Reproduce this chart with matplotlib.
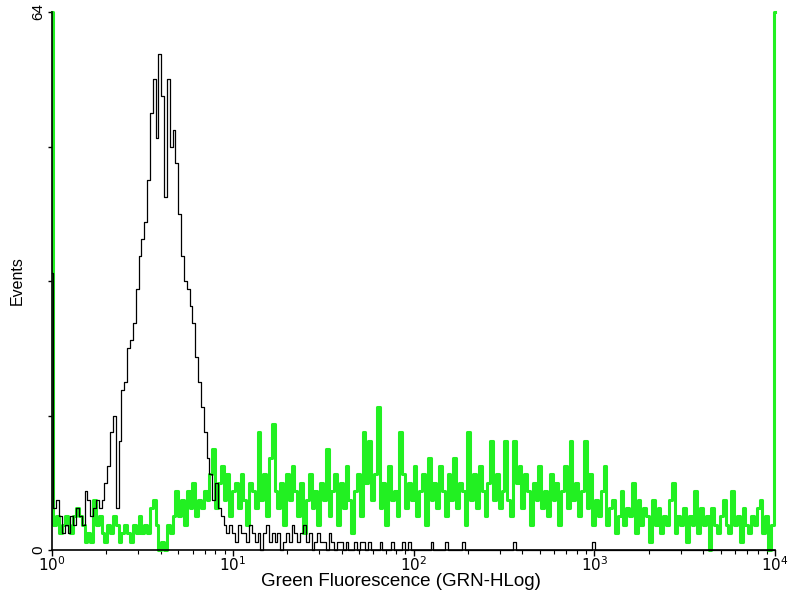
import matplotlib.pyplot as plt
import numpy as np
from matplotlib.ticker import FixedLocator, LogLocator, NullFormatter

plt.rcParams['font.family'] = ['Liberation Sans', 'DejaVu Sans']

# 256 log channels spanning 10^0 .. 10^4
n_channels = 256
decades = 4

# events per channel, sample (green)
green_counts = [
    64, 3, 4, 2, 3, 4, 3, 2, 4, 5, 4, 3, 1, 2, 1, 6,
    3, 4, 2, 1, 3, 2, 4, 3, 1, 2, 3, 2, 1, 3, 2, 4,
    2, 3, 2, 5, 6, 3, 0, 1, 0, 3, 2, 4, 7, 4, 6, 3,
    7, 5, 8, 4, 6, 5, 7, 6, 9, 12, 5, 8, 10, 6, 9, 4,
    7, 8, 5, 9, 6, 3, 8, 7, 5, 14, 6, 9, 4, 11, 15, 7,
    5, 8, 3, 9, 6, 10, 7, 4, 8, 2, 6, 9, 5, 7, 3, 8,
    6, 12, 4, 7, 9, 3, 8, 5, 10, 6, 2, 7, 9, 4, 14, 8,
    13, 6, 9, 17, 5, 8, 3, 10, 6, 7, 4, 14, 9, 5, 8, 6,
    10, 4, 7, 9, 3, 11, 6, 8, 5, 10, 7, 4, 9, 6, 11, 5,
    8, 7, 3, 14, 6, 9, 5, 10, 7, 4, 8, 13, 6, 9, 5, 7,
    13, 6, 4, 13, 8, 10, 5, 9, 7, 3, 8, 6, 10, 5, 7, 4,
    9, 6, 8, 3, 7, 10, 5, 13, 6, 8, 4, 7, 13, 5, 9, 3,
    6, 4, 7, 10, 3, 5, 6, 2, 4, 7, 3, 5, 4, 8, 2, 6,
    3, 5, 4, 1, 6, 3, 5, 2, 4, 3, 6, 8, 2, 4, 3, 5,
    1, 4, 3, 7, 2, 5, 3, 4, 0, 5, 3, 2, 4, 6, 3, 2,
    7, 3, 4, 1, 5, 3, 2, 4, 3, 5, 6, 2, 4, 0, 3, 64,
]

# events per channel, control (black)
black_counts = [
    33, 5, 6, 4, 2, 3, 2, 4, 3, 5, 4, 3, 7, 6, 4, 5,
    6, 5, 6, 8, 10, 14, 16, 5, 13, 19, 20, 24, 25, 27, 31, 35,
    37, 39, 44, 52, 56, 49, 59, 54, 42, 56, 48, 50, 46, 40, 35, 32,
    31, 29, 27, 23, 20, 17, 14, 11, 9, 6, 8, 5, 4, 3, 2, 3,
    2, 1, 3, 2, 2, 1, 3, 2, 1, 2, 0, 2, 3, 1, 2, 1,
    2, 0, 1, 2, 1, 3, 2, 1, 2, 3, 1, 2, 0, 1, 2, 1,
    1, 0, 2, 1, 0, 1, 1, 0, 1, 0, 0, 1, 0, 1, 1, 0,
    1, 0, 0, 0, 1, 0, 0, 0, 1, 0, 0, 0, 1, 0, 1, 0,
    0, 0, 0, 0, 0, 0, 1, 0, 0, 0, 0, 1, 0, 0, 0, 0,
    0, 1, 0, 0, 0, 0, 0, 0, 0, 0, 0, 0, 0, 0, 0, 0,
    0, 0, 0, 1, 0, 0, 0, 0, 0, 0, 0, 0, 0, 0, 0, 0,
    0, 0, 0, 0, 0, 0, 0, 0, 0, 0, 0, 0, 0, 0, 0, 1,
] + [0] * 64

x_ticks = [1, 10, 100, 1000, 10000]
x_tick_labels = ['$10^{0}$', '$10^{1}$', '$10^{2}$', '$10^{3}$', '$10^{4}$']
y_max = 64

channel = np.arange(n_channels)
fluor = 10 ** (decades * channel / (n_channels - 1))

fig = plt.figure(figsize=(8, 6), dpi=100)
ax = fig.add_axes([0.065, 0.0833, 0.904, 0.8967])

ax.plot(fluor, green_counts, color='#22f022', lw=2.2, drawstyle='steps-mid',
        zorder=2, clip_on=False)
ax.plot(fluor, black_counts, color='black', lw=0.9, drawstyle='steps-mid',
        zorder=3, clip_on=False)

ax.set_xscale('log')
ax.set_xlim(1, 10000)
ax.set_ylim(0, y_max)

ax.spines['top'].set_visible(False)
ax.spines['right'].set_visible(False)
ax.spines['left'].set_linewidth(1.2)
ax.spines['bottom'].set_linewidth(1.2)

ax.xaxis.set_major_locator(FixedLocator(x_ticks))
ax.set_xticklabels(x_tick_labels, fontsize=11)
ax.xaxis.set_minor_locator(LogLocator(base=10, subs=np.arange(2, 10)))
ax.xaxis.set_minor_formatter(NullFormatter())
ax.tick_params(axis='x', which='major', length=4, width=1, pad=0)
ax.tick_params(axis='x', which='minor', length=3, width=0.8)

ax.set_yticks([0, 64])
ax.set_yticks([16, 32, 48], minor=True)
ax.set_yticklabels(['0', '64'], rotation=90, va='center', fontsize=11)
ax.tick_params(axis='y', which='major', length=3, width=1, pad=2)
ax.tick_params(axis='y', which='minor', length=3, width=1)

ax.set_xlabel('Green Fluorescence (GRN-HLog)', fontsize=13.5, labelpad=0)
ax.xaxis.set_label_coords(0.483, -0.043)
ax.set_ylabel('Events', fontsize=11.5)
ax.yaxis.set_label_coords(-0.038, 0.5)

fig.savefig('out.png', dpi=100)
